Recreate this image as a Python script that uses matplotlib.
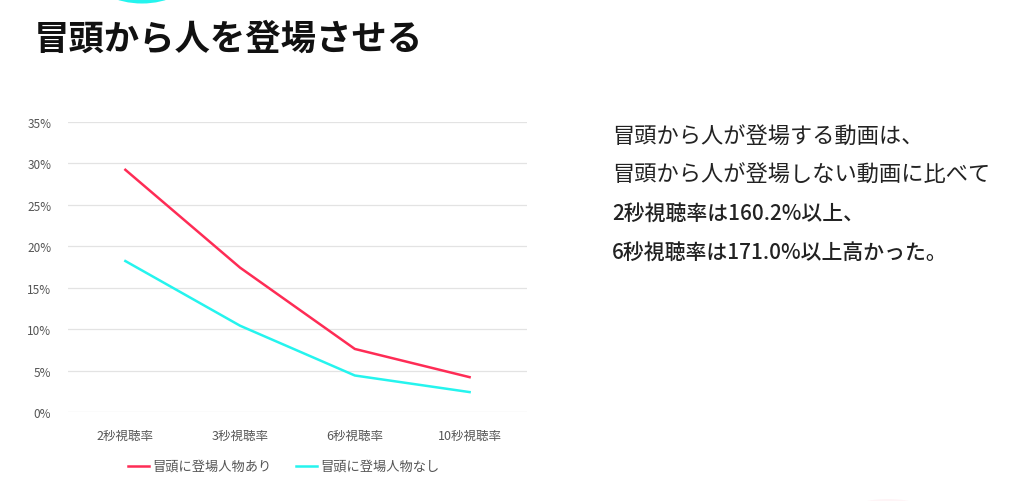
import matplotlib.pyplot as plt
from matplotlib.patches import Ellipse
from matplotlib.ticker import PercentFormatter

plt.rcParams['font.family'] = ['Noto Sans CJK JP', 'DejaVu Sans']

categories = ['2秒視聴率', '3秒視聴率', '6秒視聴率', '10秒視聴率']
with_person = [29.2, 17.4, 7.6, 4.2]
without_person = [18.2, 10.4, 4.4, 2.4]
series_names = ['冒頭に登場人物あり', '冒頭に登場人物なし']
yticks = [0, 5, 10, 15, 20, 25, 30, 35]

title = '冒頭から人を登場させる'
notes = ['冒頭から人が登場する動画は、',
         '冒頭から人が登場しない動画に比べて',
         '2秒視聴率は160.2%以上、',
         '6秒視聴率は171.0%以上高かった。']

red = '#fe2c55'
cyan = '#25f4ee'

fig = plt.figure(figsize=(10.24, 5.02), dpi=100)
fig.patch.set_facecolor('white')

# decorative shapes at the edges of the slide
deco = fig.add_axes([0, 0, 1, 1], zorder=0)
deco.set_xlim(0, 1024)
deco.set_ylim(502, 0)
deco.axis('off')
deco.add_patch(Ellipse((142, -22), 96, 53, color=cyan, lw=0))
deco.add_patch(Ellipse((888, 510), 70, 20, color=red, alpha=0.05, lw=0))

ax = fig.add_axes([0.0664, 0.1773, 0.4482, 0.5783], zorder=1)
ax.patch.set_alpha(0)
x = range(len(categories))
ax.plot(x, with_person, color=red, lw=1.8, label=series_names[0], solid_joinstyle='round')
ax.plot(x, without_person, color=cyan, lw=1.8, label=series_names[1], solid_joinstyle='round')

ax.set_xlim(-0.5, len(categories) - 0.5)
ax.set_ylim(0, 35)
ax.set_yticks(yticks)
ax.yaxis.set_major_formatter(PercentFormatter(decimals=0))
ax.set_xticks(list(x))
ax.set_xticklabels(categories)
ax.grid(axis='y', color='#e3e3e3', lw=0.9)
ax.set_axisbelow(True)
for s in ax.spines.values():
    s.set_visible(False)
ax.tick_params(length=0, labelsize=8.5, colors='#555555')
ax.tick_params(axis='x', labelsize=9, pad=12)
ax.tick_params(axis='y', pad=12)

leg = ax.legend(loc='upper center', bbox_to_anchor=(0.47, -0.125), ncol=2, frameon=False,
                fontsize=9.5, handlelength=1.6, handletextpad=0.25, columnspacing=1.9)
for t in leg.get_texts():
    t.set_color('#555555')

fig.text(0.033, 1 - 39 / 502, title, fontsize=25.5, fontweight='bold', color='#111111', va='center')

ys = [137, 175, 214, 253]
for i, (line, y) in enumerate(zip(notes, ys)):
    fig.text(612 / 1024, 1 - y / 502, line, color='#222222', va='center',
             fontsize=16 if i < 2 else 15,
             fontweight='medium' if i >= 2 else 'normal')

fig.savefig('out.png', dpi=100)
